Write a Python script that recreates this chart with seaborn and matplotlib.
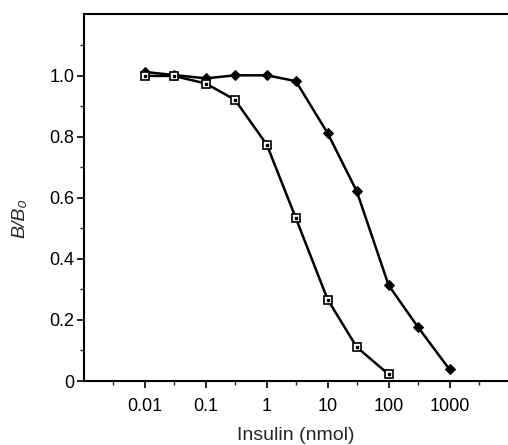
import numpy as np
import matplotlib
matplotlib.use("Agg")
import matplotlib.pyplot as plt
import seaborn as sns
from matplotlib.ticker import FixedLocator, NullFormatter

# dati
insulin_sq = [0.01, 0.03, 0.1, 0.3, 1, 3, 10, 30, 100]
ratio_sq = [1.00, 1.00, 0.975, 0.922, 0.775, 0.534, 0.267, 0.111, 0.022]

insulin_dm = [0.01, 0.03, 0.1, 0.3, 1, 3, 10, 30, 100, 300, 1000]
ratio_dm = [1.013, 1.003, 0.992, 1.002, 1.002, 0.983, 0.812, 0.622, 0.314, 0.178, 0.038]

x_ticks = [0.01, 0.1, 1, 10, 100, 1000]
x_ticklabels = ["0.01", "0.1", "1", "10", "100", "1000"]
x_minor = [0.003, 0.03, 0.3, 3, 30, 300, 3000]
y_ticks = [0, 0.2, 0.4, 0.6, 0.8, 1.0]
y_ticklabels = ["0", "0.2", "0.4", "0.6", "0.8", "1.0"]
y_minor = [0.1, 0.3, 0.5, 0.7, 0.9, 1.1]

sns.set_theme(style="ticks")
plt.rcParams['font.family'] = ['Liberation Sans', 'DejaVu Sans']

fig = plt.figure(figsize=(5.08, 4.45), dpi=100)
ax = fig.add_axes([84 / 508, 1 - 381 / 445, 1 - 84 / 508, (381 - 14) / 445])

sns.lineplot(x=insulin_dm, y=ratio_dm, ax=ax, color="black", linewidth=1.8,
             marker="D", markersize=5.5, markerfacecolor="black",
             markeredgecolor="black", zorder=3)
sns.lineplot(x=insulin_sq, y=ratio_sq, ax=ax, color="black", linewidth=1.8,
             marker="s", markersize=5.5, markerfacecolor="white",
             markeredgecolor="black", markeredgewidth=1.2, zorder=4)
# puntino dentro i quadratini
ax.plot(insulin_sq, ratio_sq, linestyle="none", marker="s", markersize=1.5,
        color="black", zorder=5)

ax.set_xscale("log")
ax.set_xlim(1e-3, 10 ** 3.96)
ax.set_ylim(0, 1.203)

ax.xaxis.set_major_locator(FixedLocator(x_ticks))
ax.set_xticklabels(x_ticklabels)
ax.xaxis.set_minor_locator(FixedLocator(x_minor))
ax.xaxis.set_minor_formatter(NullFormatter())

ax.set_yticks(y_ticks)
ax.set_yticklabels(y_ticklabels)
ax.yaxis.set_minor_locator(FixedLocator(y_minor))

ax.tick_params(axis="both", which="major", direction="out", length=5, width=1.2,
               labelsize=13, colors="black")
ax.tick_params(axis="x", which="major", pad=7)
ax.tick_params(axis="y", which="major", pad=2)
ax.tick_params(axis="both", which="minor", direction="out", length=3, width=1.0)

for side in ["left", "bottom", "top"]:
    ax.spines[side].set_linewidth(1.5)
    ax.spines[side].set_color("black")
ax.spines["right"].set_visible(False)

ax.set_xlabel("Insulin (nmol)", fontsize=14, labelpad=9)
ax.set_ylabel("B/B₀", fontsize=14, fontstyle="italic")
ax.yaxis.set_label_coords(-0.132, 0.444)

plt.savefig("out.png", dpi=100)
